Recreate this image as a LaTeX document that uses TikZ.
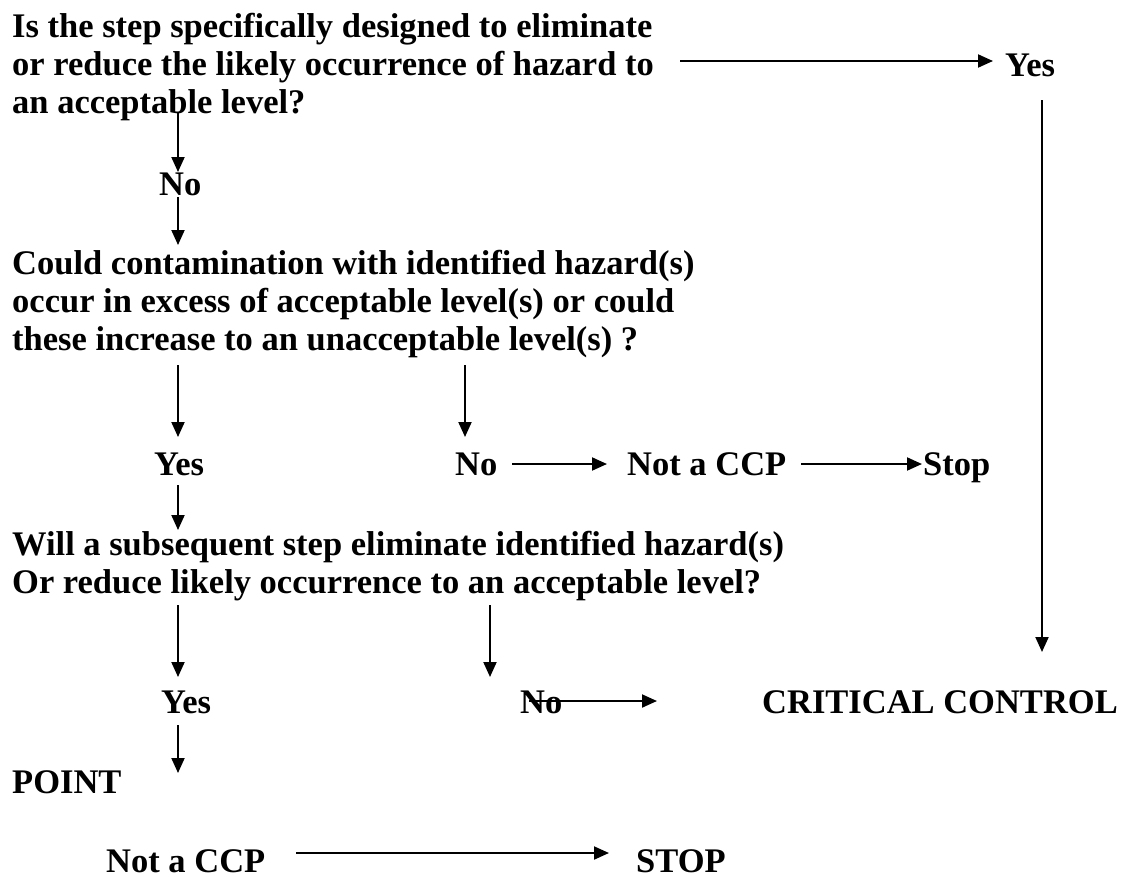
\documentclass[tikz,border=0pt]{standalone}
\usepackage{fontspec}
\setmainfont{Liberation Serif}
\usetikzlibrary{arrows.meta}
\begin{document}
\begin{tikzpicture}[x=1pt,y=-1pt,
  lbl/.style={inner sep=0pt, anchor=base west, font=\fontsize{34.5}{38}\selectfont\bfseries, align=left},
  arr/.style={line width=2pt, -{Triangle[length=15pt,width=13pt]}}]
\useasboundingbox (0,0) rectangle (1124,876);
% texts (multi-line nodes are placed by the baseline of their last line)
\node[lbl] (q1) at (12,113) {Is the step specifically designed to eliminate\\or reduce the likely occurrence of hazard to\\an acceptable level?};
\node[lbl] (yes1) at (1005,76) {Yes};
\node[lbl] (no1) at (159,195) {No};
\node[lbl] (q2) at (12,350) {Could contamination with identified hazard(s)\\occur in excess of acceptable level(s) or could\\these increase to an unacceptable level(s) ?};
\node[lbl] (yes2) at (154,475) {Yes};
\node[lbl] (no2) at (455,475) {No};
\node[lbl] (ncc1) at (627,475) {Not a CCP};
\node[lbl] (stop1) at (923,475) {Stop};
\node[lbl] (q3) at (12,593) {Will a subsequent step eliminate identified hazard(s)\\Or reduce likely occurrence to an acceptable level?};
\node[lbl] (yes3) at (161,713) {Yes};
\node[lbl] (no3) at (520,713) {No};
\node[lbl] (cc) at (762,713) {CRITICAL CONTROL};
\node[lbl] (point) at (12,793) {POINT};
\node[lbl] (ncc2) at (106,872) {Not a CCP};
\node[lbl] (stop2) at (636,872) {STOP};
% connector end points
\coordinate (a1s) at (680,61);  \coordinate (a1e) at (993,61);
\coordinate (a2s) at (178,112); \coordinate (a2e) at (178,172);
\coordinate (a3s) at (178,197); \coordinate (a3e) at (178,245);
\coordinate (a4s) at (178,365); \coordinate (a4e) at (178,437);
\coordinate (a5s) at (465,365); \coordinate (a5e) at (465,437);
\coordinate (a6s) at (512,464); \coordinate (a6e) at (607,464);
\coordinate (a7s) at (801,464); \coordinate (a7e) at (922,464);
\coordinate (a8s) at (178,485); \coordinate (a8e) at (178,530);
\coordinate (a9s) at (1042,100); \coordinate (a9e) at (1042,652);
\coordinate (a10s) at (178,605); \coordinate (a10e) at (178,677);
\coordinate (a11s) at (490,605); \coordinate (a11e) at (490,677);
\coordinate (a12s) at (529,701); \coordinate (a12e) at (657,701);
\coordinate (a13s) at (178,725); \coordinate (a13e) at (178,773);
\coordinate (a14s) at (296,853); \coordinate (a14e) at (609,853);
% connectors
\foreach \i in {1,...,14} \draw[arr] (a\i s) -- (a\i e);
\end{tikzpicture}
\end{document}
